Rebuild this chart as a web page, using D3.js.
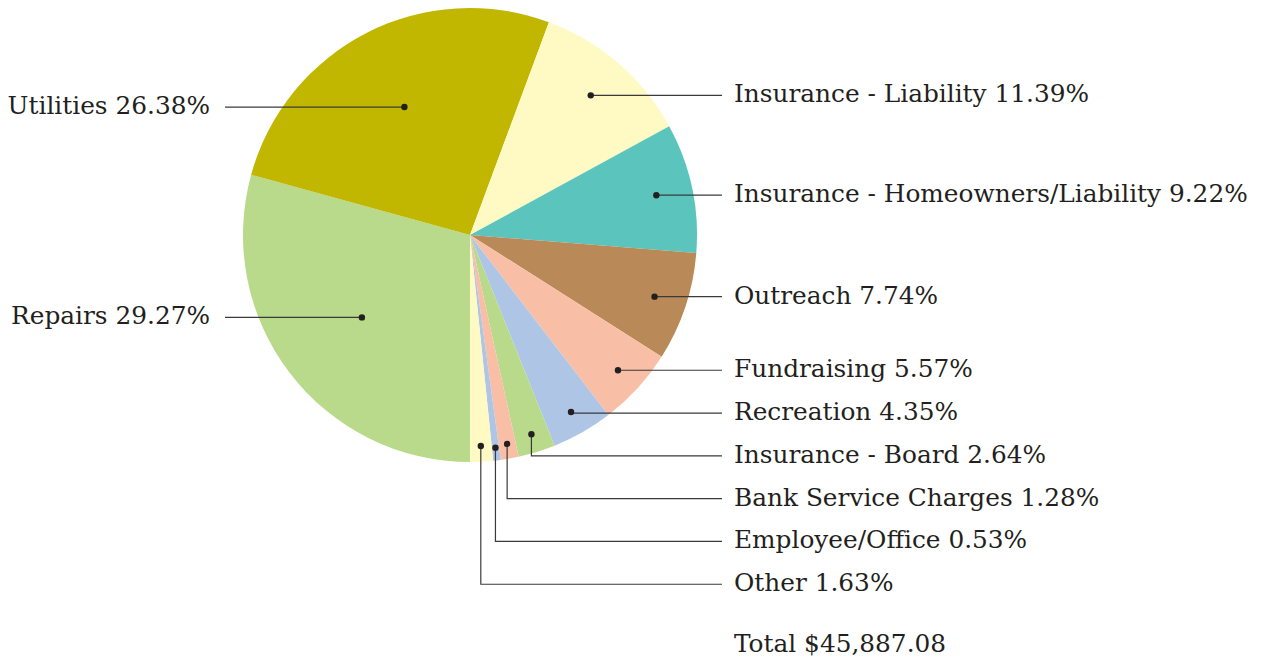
<!DOCTYPE html>
<html>
<head>
<meta charset="utf-8">
<script src="https://cdn.jsdelivr.net/npm/d3@7"></script>
<style>
  html, body { margin: 0; padding: 0; background: #ffffff; }
  svg { display: block; }
  text { font-family: "DejaVu Serif", "Liberation Serif", serif; fill: #231f20; }
</style>
</head>
<body>
<svg id="chart" width="1268" height="665"></svg>
<script>
// ---- data ----
const categories = ["Repairs", "Utilities", "Insurance - Liability", "Insurance - Homeowners/Liability",
  "Outreach", "Fundraising", "Recreation", "Insurance - Board", "Bank Service Charges",
  "Employee/Office", "Other"];
const percents = [29.27, 26.38, 11.39, 9.22, 7.74, 5.57, 4.35, 2.64, 1.28, 0.53, 1.63];
const totalLabel = "Total $45,887.08";
const sliceColors = ["#b9d98b", "#c1b600", "#fff9c3", "#5bc5bd", "#b98a57", "#f9bfa6", "#aec5e6",
  "#b9d98b", "#f9bfa6", "#aec5e6", "#fff9c3"];

// ---- layout ----
const W = 1268, H = 665;
const cx = 470, cy = 235, R = 227;
const fontSize = 24.8;
const rightLineEnd = 722, rightTextX = 734;
const leftLineEnd = 225, leftTextX = 210;
const labelGap = 42.8;

const svg = d3.select("#chart");
const g = svg.append("g").attr("transform", `translate(${cx},${cy})`);

const data = categories.map((c, i) => ({ name: c, value: percents[i], color: sliceColors[i] }));
const pie = d3.pie().sort(null).value(d => d.value)
  .startAngle(Math.PI).endAngle(3 * Math.PI);
const arcs = pie(data);
const arc = d3.arc().innerRadius(0).outerRadius(R);

g.selectAll("path.slice").data(arcs).enter().append("path")
  .attr("class", "slice")
  .attr("d", arc)
  .attr("fill", d => d.data.color);

// anchor points inside slices
const total = d3.sum(percents);
arcs.forEach(a => {
  const mid = (a.startAngle + a.endAngle) / 2;
  const p = a.data.value / total;
  const r = R * (0.95 - 1.2 * p);
  a.side = Math.sin(mid) >= 0 ? "right" : "left";
  a.ax = cx + r * Math.sin(mid);
  a.ay = cy - r * Math.cos(mid);
});

// label layout: push apart top to bottom on each side
const right = arcs.filter(a => a.side === "right");
const left = arcs.filter(a => a.side === "left").sort((a, b) => a.ay - b.ay);
let prev = -Infinity;
right.forEach(a => { a.ly = Math.max(a.ay, prev + labelGap); prev = a.ly; });
prev = -Infinity;
left.forEach(a => { a.ly = Math.max(a.ay, prev + labelGap); prev = a.ly; });

const lab = svg.append("g");
arcs.forEach(a => {
  const endX = a.side === "right" ? rightLineEnd : leftLineEnd;
  const pts = [[a.ax, a.ay], [a.ax, a.ly], [endX, a.ly]];
  lab.append("path")
    .attr("d", d3.line()(pts))
    .attr("fill", "none")
    .attr("stroke", "#3a3a3a")
    .attr("stroke-width", 1.2);
  lab.append("circle")
    .attr("cx", a.ax).attr("cy", a.ay).attr("r", 3.2)
    .attr("fill", "#231f20");
  lab.append("text")
    .attr("x", a.side === "right" ? rightTextX : leftTextX)
    .attr("y", a.ly)
    .attr("dy", "0.28em")
    .attr("text-anchor", a.side === "right" ? "start" : "end")
    .attr("font-size", fontSize)
    .text(`${a.data.name} ${d3.format(".2f")(a.data.value)}%`);
});

const last = right[right.length - 1];
lab.append("text")
  .attr("x", rightTextX)
  .attr("y", last.ly + 61)
  .attr("dy", "0.28em")
  .attr("font-size", fontSize)
  .text(totalLabel);
</script>
</body>
</html>
